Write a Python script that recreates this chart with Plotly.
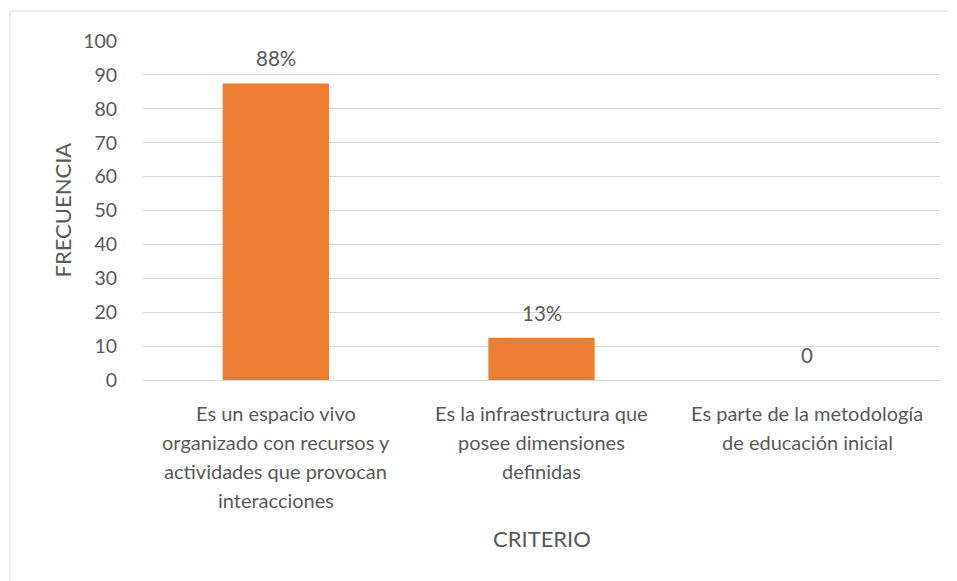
import plotly.graph_objects as go

categories = [
    "Es un espacio vivo organizado con recursos y actividades que provocan interacciones",
    "Es la infraestructura que posee dimensiones definidas",
    "Es parte de la metodología de educación inicial",
]
category_lines = [
    ["Es un espacio vivo", "organizado con recursos y", "actividades que provocan", "interacciones"],
    ["Es la infraestructura que", "posee dimensiones", "definidas"],
    ["Es parte de la metodología", "de educación inicial"],
]
values = [87.5, 12.5, 0]
value_labels = ["88%", "13%", "0"]
y_ticks = [0, 10, 20, 30, 40, 50, 60, 70, 80, 90, 100]

FONT = "Lato"
GREY = "#595959"

fig = go.Figure()
fig.add_trace(go.Bar(
    x=categories, y=values,
    marker=dict(color="#ED7D31", line=dict(width=0)),
    width=0.4,
    hoverinfo="skip",
))

# value labels above bars
for c, v, t in zip(categories, values, value_labels):
    fig.add_annotation(x=c, y=v, text=t, showarrow=False, yanchor="middle",
                       yshift=25, font=dict(family=FONT, size=20.5, color=GREY))

# category labels (one annotation per line for Excel-like line spacing)
for c, lines in zip(categories, category_lines):
    for i, line in enumerate(lines):
        fig.add_annotation(x=c, xref="x", y=0, yref="paper", text=line, showarrow=False,
                           yanchor="middle", yshift=-(33 + 29 * i),
                           font=dict(family=FONT, size=20, color=GREY))

# axis titles
fig.add_annotation(xref="paper", yref="paper", x=-81 / 797, y=0.5, text="FRECUENCIA",
                   textangle=-90, showarrow=False, xanchor="center", yanchor="middle",
                   font=dict(family=FONT, size=22, color=GREY))
fig.add_annotation(xref="paper", yref="paper", x=0.5, y=-158 / 339, text="CRITERIO",
                   showarrow=False, xanchor="center", yanchor="middle",
                   font=dict(family=FONT, size=22, color=GREY))

# chart border
fig.add_shape(type="rect", xref="paper", yref="paper",
              x0=-0.1669, x1=1.05, y0=-0.65, y1=1.0885,
              line=dict(color="#d9d9d9", width=1), fillcolor="rgba(0,0,0,0)", layer="below")

fig.update_layout(
    width=957, height=581,
    margin=dict(l=135, r=25, t=33, b=209),
    paper_bgcolor="white", plot_bgcolor="white",
    showlegend=False,
    font=dict(family=FONT, size=20, color=GREY),
    xaxis=dict(
        showgrid=False, showline=False, zeroline=False,
        showticklabels=False, ticks="",
    ),
    yaxis=dict(
        range=[0, 100], tickvals=y_ticks,
        showgrid=True, gridcolor="#d9d9d9", gridwidth=1.3,
        zeroline=True, zerolinecolor="#d9d9d9", zerolinewidth=1.3,
        showline=False,
        ticks="outside", ticklen=21, tickcolor="rgba(0,0,0,0)",
        tickfont=dict(family=FONT, size=19.5, color=GREY),
    ),
)

fig.write_html("out.html")
